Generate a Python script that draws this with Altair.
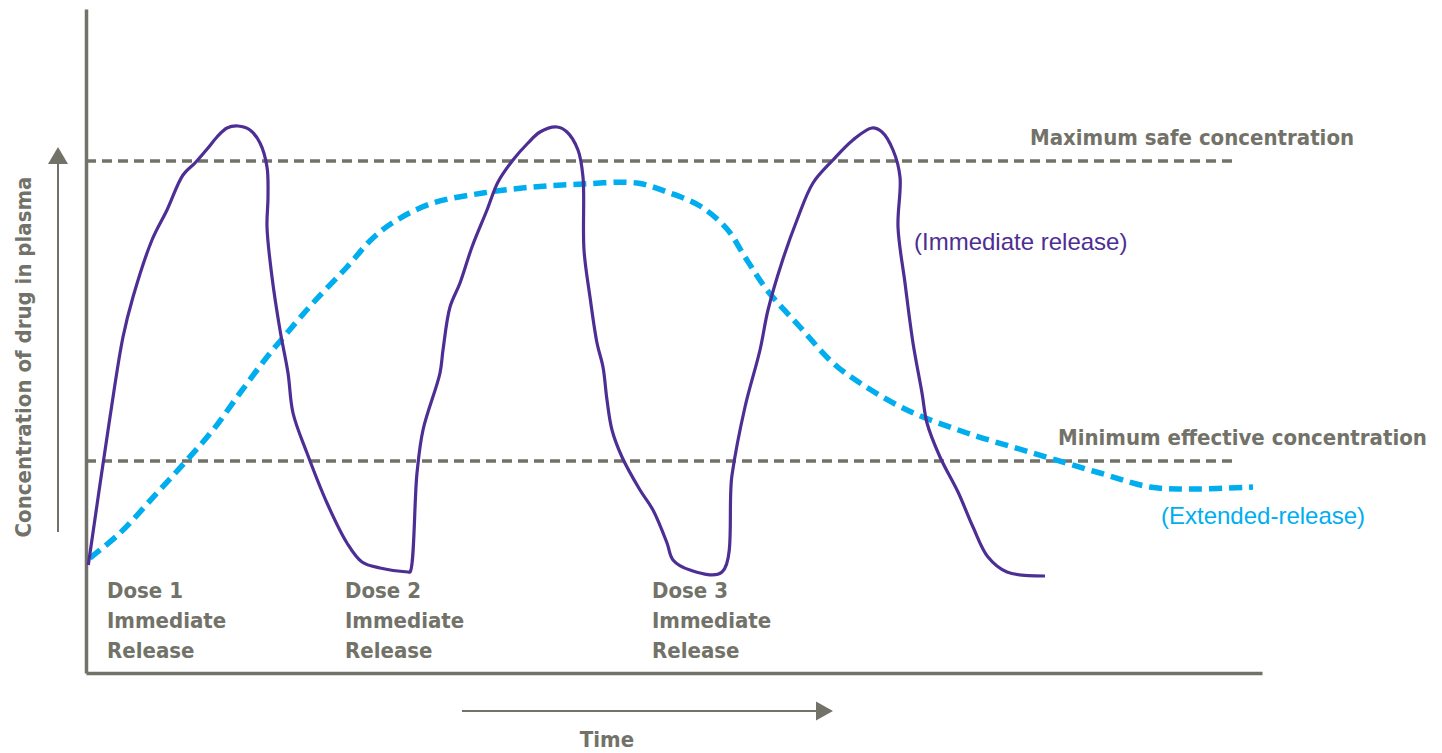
import altair as alt
import pandas as pd

GRAY = "#727269"
PURPLE = "#4d2e94"
BLUE = "#00aeef"
FONT = "Liberation Sans Narrow, DejaVu Sans Condensed, Roboto, sans-serif"
FONT_REG = "Liberation Sans, Arial, sans-serif"

# Immediate-release concentration curve (three doses)
ir_time = [0.23, 2.4, 3.7, 4.7, 6.6, 8.1, 9.7, 10.9, 12.2, 13.1, 14.1, 15.2, 16.4, 17.4, 18.1, 18.2, 18.1,
           18.6, 19.4, 20.2, 20.7, 22.1, 24.1, 26.1, 27.6, 29.4, 32.2,
           32.4, 33.1, 33.7, 35.4, 35.7, 36.4, 37.4, 38.6, 40.1, 41.2, 42.7, 44.2, 45.4, 47.1, 48.1, 49.2,
           49.7, 49.8, 50.4, 51.1, 51.7, 52.1, 52.6, 53.6, 55.4, 56.7, 58.1, 58.7, 60.4, 63.6,
           64.6, 65.9, 67.4, 68.2, 69.6, 71.1, 72.7, 74.7, 76.7, 78.6, 79.6, 80.7, 81.4, 81.2, 81.9, 82.7,
           83.6, 84.1, 85.4, 87.2, 88.7, 90.2, 92.1, 95.9]
ir_conc = [10.8, 25.6, 33.6, 37.6, 43.3, 46.3, 49.8, 51.0, 52.5, 53.6, 54.5, 54.7, 54.3, 53.0, 50.6, 47.6, 44.6,
           39.6, 34.3, 30.0, 26.0, 22.0, 17.0, 13.0, 11.1, 10.5, 10.1,
           10.1, 20.0, 24.3, 30.0, 32.3, 36.6, 39.0, 42.6, 46.3, 49.1, 51.3, 53.0, 54.1, 54.6, 54.1, 52.3,
           49.6, 42.3, 37.6, 33.0, 30.6, 27.3, 24.3, 21.6, 18.3, 16.3, 13.0, 11.3, 10.3, 10.1,
           19.8, 26.6, 32.3, 36.3, 41.1, 45.3, 49.0, 51.3, 53.3, 54.5, 54.1, 52.3, 49.6, 44.6, 39.0, 33.0,
           28.0, 25.0, 21.6, 18.1, 14.6, 11.6, 10.1, 9.7]

# Extended-release concentration curve
er_time = [0.4, 3.4, 7.1, 10.1, 12.7, 15.4, 18.1, 20.1, 22.7, 26.1, 28.7, 31.1, 34.7, 39.7, 44.7, 49.7,
           55.1, 58.1, 61.4, 64.1, 65.9, 68.1, 71.4, 74.7, 77.4, 82.1, 88.1, 94.7, 101.4, 106.4, 110.4, 116.7]
er_conc = [11.5, 14.0, 18.0, 21.3, 24.3, 28.0, 31.6, 34.0, 37.0, 40.6, 43.5, 45.3, 47.0, 48.0, 48.6, 48.9,
           49.0, 48.1, 46.7, 44.4, 41.6, 38.3, 34.6, 31.0, 29.0, 26.3, 24.0, 22.0, 20.0, 18.6, 18.4, 18.6]

# Reference levels
ref_names = ["Maximum safe concentration", "Minimum effective concentration"]
ref_levels = [51.2, 21.2]
ref_end = [114.7, 114.7]
ref_label_time = [94.4, 97.2]
ref_label_conc = [53.5, 23.5]

# Series labels
series_labels = ["(Immediate release)", "(Extended-release)"]
series_label_time = [82.8, 107.5]
series_label_conc = [43.0, 15.6]
series_colors = [PURPLE, BLUE]

# Dose labels
dose_labels = ["Dose 1\nImmediate\nRelease", "Dose 2\nImmediate\nRelease", "Dose 3\nImmediate\nRelease"]
dose_label_time = [2.1, 25.9, 56.6]
dose_label_conc = [8.2, 8.2, 8.2]

x_scale = alt.Scale(domain=[0, 117.6], nice=False, zero=False)
y_scale = alt.Scale(domain=[0, 66.4], nice=False, zero=False)
ax = alt.Axis(labels=False, ticks=False, grid=False, domainColor=GRAY, domainWidth=3.5)

ir_df = pd.DataFrame({"t": ir_time, "c": ir_conc, "i": range(len(ir_time))})
er_df = pd.DataFrame({"t": er_time, "c": er_conc, "i": range(len(er_time))})
ref_df = pd.DataFrame({"name": ref_names, "c": ref_levels, "t0": [0, 0], "t1": ref_end,
                       "lt": ref_label_time, "lc": ref_label_conc})
ser_df = pd.DataFrame({"label": series_labels, "t": series_label_time, "c": series_label_conc,
                       "color": series_colors})
dose_df = pd.DataFrame({"label": dose_labels, "t": dose_label_time, "c": dose_label_conc})

X = lambda f: alt.X(f, type="quantitative", scale=x_scale, axis=ax, title=None)
Y = lambda f: alt.Y(f, type="quantitative", scale=y_scale, axis=ax, title=None)

ref_rules = alt.Chart(ref_df).mark_rule(color=GRAY, strokeWidth=3.5, strokeDash=[10, 6]).encode(
    x=X("t0"), x2="t1", y=Y("c"))
ref_text = alt.Chart(ref_df).mark_text(font=FONT, fontWeight="bold", fontSize=22, color=GRAY,
                                       align="left", baseline="middle").encode(
    x=X("lt"), y=Y("lc"), text="name:N")

ir_line = alt.Chart(ir_df).mark_line(color=PURPLE, strokeWidth=3.2, interpolate="catmull-rom").encode(
    x=X("t"), y=Y("c"), order="i:Q")
er_line = alt.Chart(er_df).mark_line(color=BLUE, strokeWidth=5.5, strokeDash=[13, 7],
                                     interpolate="catmull-rom").encode(
    x=X("t"), y=Y("c"), order="i:Q")

ser_text = alt.Chart(ser_df).mark_text(font=FONT_REG, fontSize=24, align="left", baseline="middle").encode(
    x=X("t"), y=Y("c"), text="label:N", color=alt.Color("color:N", scale=None))

dose_text = alt.Chart(dose_df).mark_text(font=FONT, fontWeight="bold", fontSize=22, color=GRAY,
                                         align="left", baseline="middle", lineBreak="\n",
                                         lineHeight=30).encode(
    x=X("t"), y=Y("c"), text="label:N")

# Axis direction arrows and titles
yarrow_df = pd.DataFrame({"t": [-2.8], "c0": [14.1], "c1": [51.0], "hc": [51.75]})
xarrow_df = pd.DataFrame({"c": [-3.8], "t0": [37.6], "t1": [73.2], "ht": [73.85]})
titles_df = pd.DataFrame({"label": ["Concentration of drug in plasma", "Time"],
                          "t": [-6.2, 52.1], "c": [31.6, -6.7]})

y_arrow = alt.Chart(yarrow_df).mark_rule(color=GRAY, strokeWidth=2).encode(
    x=X("t"), y=Y("c0"), y2="c1")
y_head = alt.Chart(yarrow_df).mark_point(shape="M-1,0.85L1,0.85L0,-0.85Z", filled=True, size=400,
                                         color=GRAY, opacity=1).encode(x=X("t"), y=Y("hc"))
x_arrow = alt.Chart(xarrow_df).mark_rule(color=GRAY, strokeWidth=2).encode(
    x=X("t0"), x2="t1", y=Y("c"))
x_head = alt.Chart(xarrow_df).mark_point(shape="M-0.85,-0.95L0.85,0L-0.85,0.95Z", filled=True, size=400,
                                         color=GRAY, opacity=1).encode(x=X("ht"), y=Y("c"))

title_y = alt.Chart(titles_df.iloc[[0]]).mark_text(font=FONT, fontWeight="bold", fontSize=22, color=GRAY,
                                                  align="center", baseline="middle", angle=270).encode(
    x=X("t"), y=Y("c"), text="label:N")
title_x = alt.Chart(titles_df.iloc[[1]]).mark_text(font=FONT, fontWeight="bold", fontSize=22, color=GRAY,
                                                  align="center", baseline="middle").encode(
    x=X("t"), y=Y("c"), text="label:N")

chart = alt.layer(
    ref_rules, er_line, ir_line, ref_text, ser_text, dose_text,
    y_arrow, y_head, x_arrow, x_head, title_y, title_x
).properties(
    width=1176, height=664,
    autosize=alt.AutoSizeParams(type="none"),
    padding={"left": 78, "top": 1, "right": 170, "bottom": 84},
    background="white",
).configure_view(strokeWidth=0)

chart.save("out.html", embed_options={"renderer": "svg", "actions": False})
